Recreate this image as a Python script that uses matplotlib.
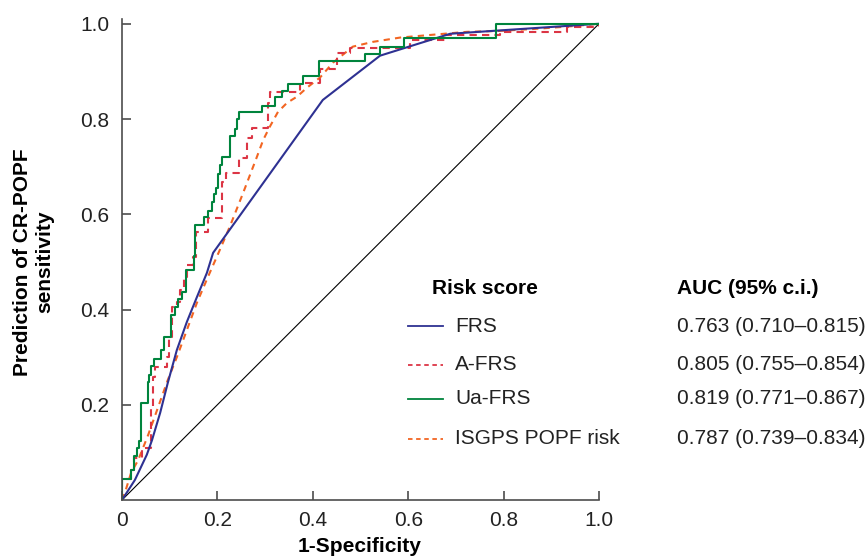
import matplotlib
matplotlib.use("Agg")
import matplotlib.pyplot as plt

plt.rcParams['font.family'] = ['Liberation Sans', 'DejaVu Sans']

# FRS (blue, solid)
frs_x = [0, 0.027, 0.052, 0.063, 0.080, 0.096, 0.115, 0.136, 0.157, 0.178, 0.191, 0.421, 0.541, 0.688, 1.0]
frs_y = [0, 0.042, 0.095, 0.126, 0.183, 0.246, 0.315, 0.374, 0.426, 0.477, 0.519, 0.840, 0.933, 0.979, 1.0]

# A-FRS (red, dashed, stepwise)
afrs_x = [0, 0, 0.019, 0.025, 0.042, 0.061, 0.065, 0.069, 0.094, 0.099, 0.105, 0.115, 0.122, 0.130,
          0.136, 0.149, 0.155, 0.180, 0.210, 0.218, 0.245, 0.262, 0.273, 0.306, 0.310, 0.373, 0.415,
          0.451, 0.478, 0.604, 0.677, 0.792, 0.933, 1.0]
afrs_y = [0, 0.044, 0.063, 0.088, 0.109, 0.195, 0.258, 0.279, 0.300, 0.342, 0.405, 0.416, 0.441, 0.468,
          0.494, 0.510, 0.563, 0.592, 0.668, 0.687, 0.718, 0.761, 0.782, 0.834, 0.857, 0.876, 0.905,
          0.939, 0.950, 0.966, 0.977, 0.983, 0.994, 1.0]

# Ua-FRS (green, solid, stepwise)
uafrs_x = [0, 0, 0.019, 0.025, 0.031, 0.036, 0.040, 0.055, 0.057, 0.061, 0.067, 0.082, 0.088, 0.103,
           0.111, 0.117, 0.126, 0.134, 0.151, 0.153, 0.172, 0.180, 0.189, 0.193, 0.197, 0.201, 0.205,
           0.210, 0.226, 0.237, 0.241, 0.245, 0.294, 0.321, 0.335, 0.348, 0.379, 0.413, 0.509, 0.541,
           0.591, 0.784, 1.0]
uafrs_y = [0, 0.044, 0.063, 0.093, 0.109, 0.124, 0.204, 0.248, 0.263, 0.282, 0.297, 0.316, 0.343, 0.389,
           0.406, 0.423, 0.436, 0.482, 0.512, 0.577, 0.594, 0.606, 0.625, 0.642, 0.655, 0.684, 0.703,
           0.720, 0.764, 0.779, 0.800, 0.815, 0.827, 0.846, 0.859, 0.874, 0.891, 0.922, 0.937, 0.952,
           0.971, 1.0, 1.0]

# ISGPS POPF risk (orange, dashed)
isgps_x = [0, 0.006, 0.019, 0.034, 0.055, 0.075, 0.096, 0.115, 0.136, 0.157, 0.180, 0.205, 0.226, 0.254,
           0.283, 0.296, 0.310, 0.327, 0.346, 0.367, 0.388, 0.415, 0.442, 0.484, 0.526, 0.583, 0.652,
           0.723, 0.792, 0.862, 0.933, 1.0]
isgps_y = [0, 0.015, 0.057, 0.084, 0.137, 0.193, 0.252, 0.300, 0.357, 0.414, 0.468, 0.525, 0.574, 0.645,
           0.721, 0.756, 0.784, 0.815, 0.834, 0.847, 0.866, 0.887, 0.918, 0.952, 0.962, 0.971, 0.977,
           0.983, 0.985, 0.989, 0.994, 1.0]

labels = ["FRS", "A-FRS", "Ua-FRS", "ISGPS POPF risk"]
auc_text = ["0.763 (0.710\u20130.815)", "0.805 (0.755\u20130.854)",
            "0.819 (0.771\u20130.867)", "0.787 (0.739\u20130.834)"]

c_blue = "#2e3192"
c_red = "#dc3545"
c_green = "#00843d"
c_orange = "#f26522"
fs = 15

W, H = 868, 559
fig = plt.figure(figsize=(W / 100, H / 100), dpi=100)
ax = fig.add_axes([122 / W, 1 - 500 / H, 477 / W, 481 / H])

ax.plot([0, 1], [0, 1], color="black", lw=0.8)
ax.plot(isgps_x, isgps_y, color=c_orange, lw=1.5, dashes=(3, 2.5))
ax.step(afrs_x, afrs_y, where="post", color=c_red, lw=1.5, dashes=(3.5, 2.5))
ax.plot(frs_x, frs_y, color=c_blue, lw=1.5)
ax.step(uafrs_x, uafrs_y, where="post", color=c_green, lw=1.5)

ax.set_xlim(0, 1.0)
ax.set_ylim(0, 1.01)
ax.set_xticks([0, 0.2, 0.4, 0.6, 0.8, 1.0])
ax.set_xticklabels(["0", "0.2", "0.4", "0.6", "0.8", "1.0"])
ax.set_yticks([0.2, 0.4, 0.6, 0.8, 1.0])
ax.set_yticklabels(["0.2", "0.4", "0.6", "0.8", "1.0"])
for s in ["top", "right"]:
    ax.spines[s].set_visible(False)
for s in ["left", "bottom"]:
    ax.spines[s].set_color("#4d4d4d")
    ax.spines[s].set_linewidth(1.2)
ax.tick_params(direction="in", length=6.5, width=1.2, color="#4d4d4d",
               labelsize=fs, labelcolor="#222222")
ax.tick_params(axis="x", pad=8)
ax.tick_params(axis="y", pad=9)

fig.text(360 / W, 1 - 547 / H, "1-Specificity", fontsize=fs, fontweight="bold",
         ha="center", va="center")
fig.text(34 / W, 1 - 262 / H, "Prediction of CR-POPF\nsensitivity", fontsize=fs,
         fontweight="bold", rotation=90, ha="center", va="center", linespacing=1.2)

# legend as a small table
fig.text(432 / W, 1 - 289 / H, "Risk score", fontsize=fs, fontweight="bold", va="center")
fig.text(677 / W, 1 - 289 / H, "AUC (95% c.i.)", fontsize=fs, fontweight="bold", va="center")
rows_y = [326, 365, 399, 439]
styles = [dict(color=c_blue), dict(color=c_red, dashes=(2.5, 2)),
          dict(color=c_green), dict(color=c_orange, dashes=(2.5, 2))]
for yy, lab, auc, st in zip(rows_y, labels, auc_text, styles):
    fy = 1 - yy / H
    fig.add_artist(plt.Line2D([408 / W, 443 / W], [fy, fy], lw=1.3, **st))
    fig.text(455 / W, fy, lab, fontsize=fs, va="center", color="#222222")
    fig.text(677 / W, fy, auc, fontsize=fs, va="center", color="#222222")

fig.savefig("out.png", dpi=100)
